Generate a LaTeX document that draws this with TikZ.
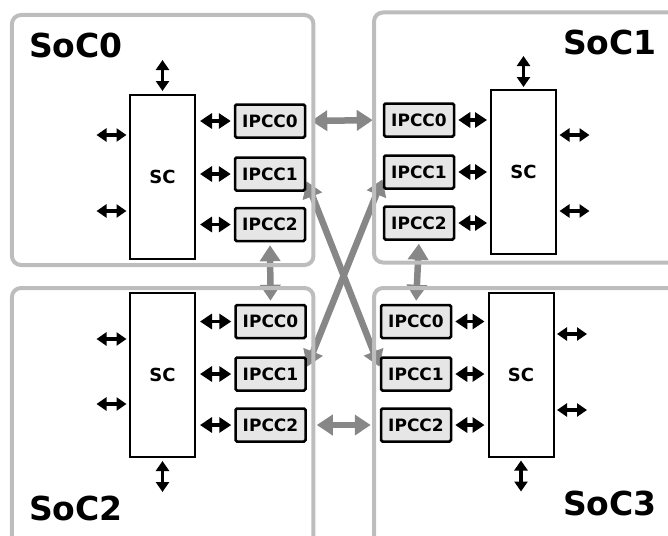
\documentclass[tikz,border=0pt]{standalone}
\usepackage{fontspec}
\setmainfont{DejaVu Sans}
\usetikzlibrary{arrows.meta, backgrounds, calc}

\begin{document}
\begin{tikzpicture}[x=1pt, y=-1pt,
    socbox/.style={draw=socColour, line width=4pt, rounded corners=9pt, inner sep=0pt},
    soclabel/.style={font=\bfseries\fontsize{33}{38}\selectfont, inner sep=0pt},
    scbox/.style={draw, line width=2pt, minimum width=65, minimum height=164,
        font=\bfseries\fontsize{18}{20}\selectfont},
    ipcc/.style={draw, fill=ipccColour, line width=2.5pt, rounded corners=1.5pt,
        minimum width=70, minimum height=33, inner sep=0pt,
        font=\bfseries\fontsize{17}{19}\selectfont},
    bus/.style={{Triangle[length=12pt,width=15pt]}-{Triangle[length=12pt,width=15pt]}, line width=3.5pt},
    port/.style={{Triangle[length=10pt,width=13pt]}-{Triangle[length=10pt,width=13pt]}, line width=3.5pt},
    link/.style={{Triangle[length=16pt,width=20pt]}-{Triangle[length=16pt,width=20pt]},
        draw=linkColour, line width=6.5pt}]
    % Define colours
    \definecolor{socColour}{HTML}{BDBDBD}
    \definecolor{linkColour}{HTML}{878787}
    \definecolor{ipccColour}{HTML}{E6E6E6}

    % Frame of the picture
    \useasboundingbox (0,0) rectangle (668,535);
    \clip (0,0) rectangle (668,535);

    % Draw the SoC outlines
    \node[socbox, minimum width=301.5, minimum height=250] (soc0) at (162.7,140) {};
    \node[socbox, minimum width=316, minimum height=250] (soc1) at (532,137.5) {};
    \node[socbox, minimum width=301.5, minimum height=257] (soc2) at (162.7,416.5) {};
    \node[socbox, minimum width=316, minimum height=257] (soc3) at (532,416.5) {};

    % Label the SoCs
    \node[soclabel, anchor=base west] (lab0) at (29,57) {SoC0};
    \node[soclabel, anchor=base east] (lab1) at (657,55) {SoC1};
    \node[soclabel, anchor=base west] (lab2) at (29,520) {SoC2};
    \node[soclabel, anchor=base east] (lab3) at (657,515) {SoC3};

    % Draw the system controllers
    \node[scbox] (sc0) at (162.5,176.5) {SC};
    \node[scbox] (sc1) at (523.5,172) {SC};
    \node[scbox] (sc2) at (162.5,375) {SC};
    \node[scbox] (sc3) at (521,374.5) {SC};

    % Draw the IPCC blocks of each SoC
    \foreach \s/\x/\ya/\yb/\yc in {0/270/121/174/224.5, 1/419/120/172/223,
                                  2/270.5/321.5/374/425, 3/416/321.5/374/425} {
        \node[ipcc] (ipcc\s0) at (\x,\ya) {IPCC0};
        \node[ipcc] (ipcc\s1) at (\x,\yb) {IPCC1};
        \node[ipcc] (ipcc\s2) at (\x,\yc) {IPCC2};
    }

    % Connect the system controllers to their IPCC blocks
    \foreach \s in {0,2}
        \foreach \i in {0,1,2}
            \draw[bus, shorten <=4pt, shorten >=3pt] (sc\s.east |- ipcc\s\i.west) -- (ipcc\s\i.west);
    \foreach \s in {1,3}
        \foreach \i in {0,1,2}
            \draw[bus, shorten <=3pt, shorten >=3pt] (ipcc\s\i.east) -- (sc\s.west |- ipcc\s\i.east);

    % Draw the external ports of the system controllers
    \foreach \s/\dx/\ya/\yb in {0/-1/-41.5/34.5, 1/1/-37/39, 2/-1/-36/29, 3/1/-40.5/35.5}
        \foreach \dy in {\ya,\yb}
            \draw[port] ($(sc\s.center)+(\dx*36,\dy)$) -- ++(\dx*30,0);
    \draw[port] ($(sc0.north)+(0,-2.5)$) -- ++(0,-31);
    \draw[port] ($(sc1.north)+(0,-2)$) -- ++(0,-31);
    \draw[port] ($(sc2.south)+(0,3)$) -- ++(0,31);
    \draw[port] ($(sc3.south)+(0,3)$) -- ++(0,31);

    % Draw the links between the SoCs, behind the outlines
    \begin{scope}[on background layer]
        \draw[link, shorten <=5pt, shorten >=10pt] (ipcc00.east) -- (ipcc10.west);
        \draw[link, shorten <=10pt, shorten >=9pt] (ipcc22.east) -- (ipcc32.west);
        \draw[link, shorten <=3pt, shorten >=3pt] (ipcc02.south) -- (ipcc20.north);
        \draw[link, shorten <=3pt, shorten >=3pt] (ipcc12.south) -- (ipcc30.north);
        \draw[link, shorten <=1pt, shorten >=1pt] (ipcc01.-10) -- (ipcc31.170);
        \draw[link, shorten <=1pt, shorten >=1pt] (ipcc11.190) -- (ipcc21.10);
    \end{scope}

\end{tikzpicture}
\end{document}
